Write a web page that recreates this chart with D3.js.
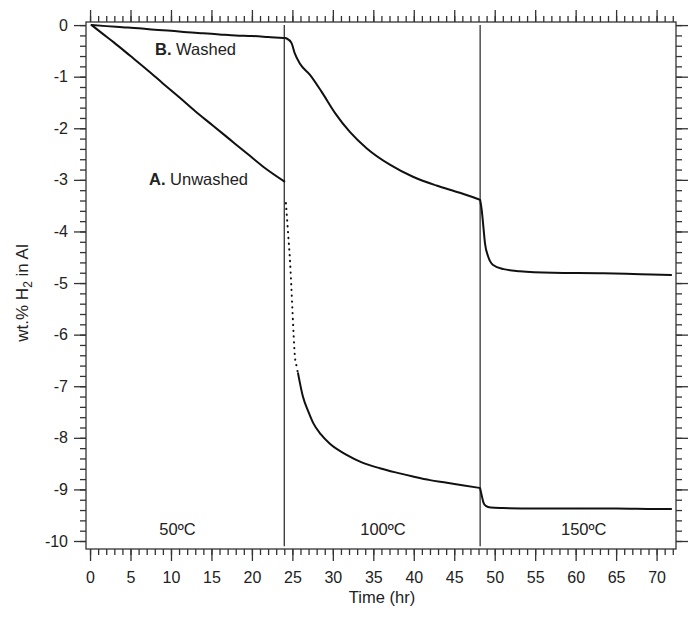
<!DOCTYPE html>
<html>
<head>
<meta charset="utf-8">
<script src="https://cdn.jsdelivr.net/npm/d3@7"></script>
<style>
  body { margin: 0; background: #fff; }
  svg { font-family: "Liberation Sans", Arial, sans-serif; }
</style>
</head>
<body>
<svg width="698" height="620"></svg>
<script>
// readings taken off the figure, [time (hr), wt.% H2]
const unwashed50 = [[0.2, 0], [1.5, -0.16], [2.9, -0.33], [5, -0.6], [7, -0.86], [9, -1.13], [11.1, -1.41],
  [13, -1.67], [15.2, -1.95], [17.3, -2.22], [19.4, -2.49], [21.6, -2.77], [24, -3.03]];
const unwashedDrop = [[24.2, -3.45], [24.5, -4.1], [24.7, -4.55], [24.85, -5.0], [25.0, -5.5], [25.15, -6.0], [25.3, -6.4],
  [25.5, -6.6], [25.7, -6.75]];
const unwashed100 = [[25.7, -6.75], [26.3, -7.2], [27, -7.5], [27.6, -7.72], [28.5, -7.93], [29.6, -8.11],
  [31.7, -8.33], [33.5, -8.47], [35.8, -8.59], [38, -8.68], [39.9, -8.75], [42, -8.82], [44.1, -8.87], [46, -8.92], [48.1, -8.97]];
const unwashed150 = [[48.2, -8.98], [48.4, -9.12], [48.6, -9.25], [48.9, -9.32], [49.5, -9.35], [51, -9.36], [55, -9.37],
  [60, -9.37], [65, -9.37], [70, -9.38], [71.8, -9.38]];

const washed50 = [[0.2, 0], [2, -0.02], [4, -0.04], [6, -0.06], [8, -0.09], [10, -0.11], [12, -0.14], [14, -0.16],
  [16, -0.18], [18, -0.2], [20, -0.21], [22, -0.23], [23.9, -0.25]];
const washed100 = [[24.1, -0.25], [24.3, -0.26], [24.9, -0.35], [25.3, -0.55], [25.9, -0.74], [27.2, -0.97], [28.6, -1.29],
  [30.3, -1.71], [32.1, -2.07], [34.2, -2.39], [37.1, -2.71], [39.9, -2.94], [42.8, -3.11], [45.7, -3.25], [48.1, -3.38]];
const washed150 = [[48.2, -3.39], [48.4, -3.59], [48.6, -3.91], [48.8, -4.23], [49.2, -4.49], [49.8, -4.65], [51.1, -4.73],
  [53.1, -4.77], [57.2, -4.8], [63.4, -4.81], [68, -4.83], [71.8, -4.845]];

const stepTimes = [24, 48.2];
const tempLabels = ["50ºC", "100ºC", "150ºC"];
const xMajor = d3.range(0, 71, 5);
const xMinor = d3.range(0, 73, 1);
const yMajor = d3.range(0, 11).map(i => -i);
const yMinor = d3.range(0, 51).map(i => -i / 5);

const svg = d3.select("svg");
const x = d3.scaleLinear().domain([-0.5, 72.4]).range([86, 676]);
const y = d3.scaleLinear().domain([0.06, -10.155]).range([22, 549]);
const ink = "#222";

// ticks on all four sides
const fmt = d => String(d);
const axes = [
  [d3.axisBottom, `translate(0,${y.range()[1]})`, true],
  [d3.axisTop, `translate(0,${y.range()[0]})`, false],
];
axes.forEach(([ax, tr, labels]) => {
  svg.append("g").attr("transform", tr)
    .call(ax(x).tickValues(xMinor).tickSize(6).tickFormat(""));
  svg.append("g").attr("transform", tr)
    .call(ax(x).tickValues(xMajor).tickSize(12).tickPadding(11).tickFormat(labels ? fmt : ""));
});
[[d3.axisLeft, `translate(${x.range()[0]},0)`, true],
 [d3.axisRight, `translate(${x.range()[1]},0)`, false]].forEach(([ax, tr, labels]) => {
  svg.append("g").attr("transform", tr)
    .call(ax(y).tickValues(yMinor).tickSize(6).tickFormat(""));
  svg.append("g").attr("transform", tr)
    .call(ax(y).tickValues(yMajor).tickSize(12).tickPadding(6).tickFormat(labels ? fmt : ""));
});
svg.selectAll(".domain").remove();
svg.selectAll(".tick line").attr("stroke", "#333").attr("stroke-width", 1.3);
svg.selectAll(".tick text").attr("fill", ink).style("font-size", "16px");

// frame
svg.append("rect")
  .attr("x", x.range()[0]).attr("y", y.range()[0])
  .attr("width", x.range()[1] - x.range()[0]).attr("height", y.range()[1] - y.range()[0])
  .attr("fill", "none").attr("stroke", "#333").attr("stroke-width", 1.3);

// temperature steps
svg.append("g").selectAll("line").data(stepTimes).join("line")
  .attr("x1", d => x(d)).attr("x2", d => x(d))
  .attr("y1", y(0)).attr("y2", y(-10.1))
  .attr("stroke", "#333").attr("stroke-width", 1.3);

const line = d3.line().x(d => x(d[0])).y(d => y(d[1])).curve(d3.curveMonotoneX);
const curves = svg.append("g").attr("fill", "none").attr("stroke", "#111")
  .attr("stroke-linejoin", "round").attr("stroke-linecap", "round");
[unwashed50, unwashed100, unwashed150, washed50, washed100, washed150].forEach(s => {
  curves.append("path").attr("d", line(s)).attr("stroke-width", 2);
});
// sparse samples where the unwashed curve falls fastest
curves.append("path").attr("d", line(unwashedDrop))
  .attr("stroke-width", 2).attr("stroke-dasharray", "0.3 5.5");

// labels
const lab = svg.append("g").attr("fill", ink).style("font-size", "16.5px");
const tB = lab.append("text").attr("x", 155).attr("y", 55);
tB.append("tspan").attr("font-weight", "bold").text("B.");
tB.append("tspan").text(" Washed");
const tA = lab.append("text").attr("x", 149).attr("y", 185);
tA.append("tspan").attr("font-weight", "bold").text("A.");
tA.append("tspan").text(" Unwashed");

const tempX = [10.8, 36.2, 61];
lab.selectAll(".temp").data(tempLabels).join("text").attr("class", "temp")
  .attr("x", (d, i) => x(tempX[i])).attr("y", 535)
  .attr("text-anchor", "middle").text(d => d);

lab.append("text").attr("x", 382).attr("y", 603).attr("text-anchor", "middle").text("Time (hr)");

const yl = lab.append("text").attr("transform", "translate(28,293) rotate(-90)")
  .attr("text-anchor", "middle").style("font-size", "17px");
yl.append("tspan").text("wt.% H");
yl.append("tspan").attr("dy", 4).style("font-size", "12px").text("2");
yl.append("tspan").attr("dy", -4).text(" in Al");
</script>
</body>
</html>
